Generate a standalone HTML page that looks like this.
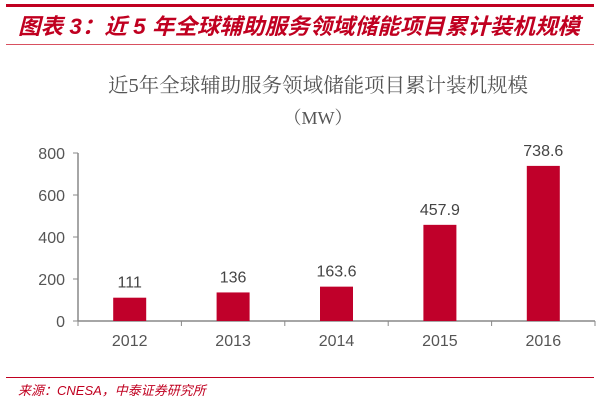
<!DOCTYPE html>
<html><head><meta charset="utf-8"><style>
body{margin:0;width:600px;height:404px;background:#fff;overflow:hidden;font-family:"Liberation Sans","Noto Sans CJK SC",sans-serif;}
</style></head><body>
<svg width="600" height="404" xmlns="http://www.w3.org/2000/svg">
<rect x="6" y="4" width="588" height="3" fill="#c00020"/>
<text x="18" y="34" font-size="22" font-weight="bold" font-style="italic" fill="#c00020" textLength="562" lengthAdjust="spacingAndGlyphs" font-family="Liberation Sans,Noto Sans CJK SC,sans-serif">图表 3：近 5 年全球辅助服务领域储能项目累计装机规模</text>
<rect x="6" y="44" width="588" height="1" fill="#d85060"/>
<text x="318" y="92" font-size="20" fill="#555" text-anchor="middle" textLength="420" lengthAdjust="spacingAndGlyphs" font-family="Liberation Serif,Noto Serif CJK SC,serif">近5年全球辅助服务领域储能项目累计装机规模</text>
<text x="318" y="124" font-size="18" fill="#555" text-anchor="middle" font-family="Liberation Serif,Noto Serif CJK SC,serif">（MW）</text>
<g id="plot"></g>
<rect x="6" y="377" width="588" height="1" fill="#c00020"/>
<text x="18" y="395" font-size="13" font-style="italic" fill="#c00020" font-family="Liberation Sans,Noto Sans CJK SC,sans-serif">来源：CNESA，中泰证券研究所</text>
</svg>
<script>
const categories=["2012","2013","2014","2015","2016"];
const values=[111,136,163.6,457.9,738.6];
const valueLabels=["111","136","163.6","457.9","738.6"];
const yTicks=[0,200,400,600,800];
const NS="http://www.w3.org/2000/svg";
const g=document.getElementById('plot');
const x0=78,x1=595,y0=321,yTop=153,yMax=800;
const step=(x1-x0)/categories.length;
const ys=v=>y0-(v/yMax)*(y0-yTop);
const xc=i=>x0+step*(i+0.5);
function mk(t,a){const e=document.createElementNS(NS,t);for(const k in a)e.setAttribute(k,a[k]);g.appendChild(e);return e;}
let ax=mk('line',{x1:x0,y1:y0,x2:x1,y2:y0,stroke:'#888','stroke-width':1.5});


let ay=mk('line',{x1:x0,y1:yTop,x2:x0,y2:y0,stroke:'#888','stroke-width':1.5});


yTicks.forEach(v=>{
 let t=mk('line',{x1:x0-5,y1:ys(v),x2:x0,y2:ys(v),stroke:'#888'});
 
 
 let l=mk('text',{x:x0-13,y:ys(v)+6,'font-size':16,fill:'#555','text-anchor':'end'});
 l.textContent=v;
 
 
});
for(let i=0;i<=categories.length;i++){
 let t=mk('line',{x1:x0+step*i,y1:y0,x2:x0+step*i,y2:y0+5,stroke:'#888'});
 
 
}
categories.forEach((c,i)=>{
 const bw=33;
 let b=mk('rect',{x:xc(i)-bw/2,y:ys(values[i]),width:bw,height:y0-ys(values[i]),fill:'#c0002a'});
 
 
 let v=mk('text',{x:xc(i),y:ys(values[i])-10,'font-size':16,fill:'#444','text-anchor':'middle'});
 v.textContent=valueLabels[i];
 
 
 let l=mk('text',{x:xc(i),y:y0+25,'font-size':16,fill:'#555','text-anchor':'middle'});
 l.textContent=c;
 
 
});
</script>
</body></html>
